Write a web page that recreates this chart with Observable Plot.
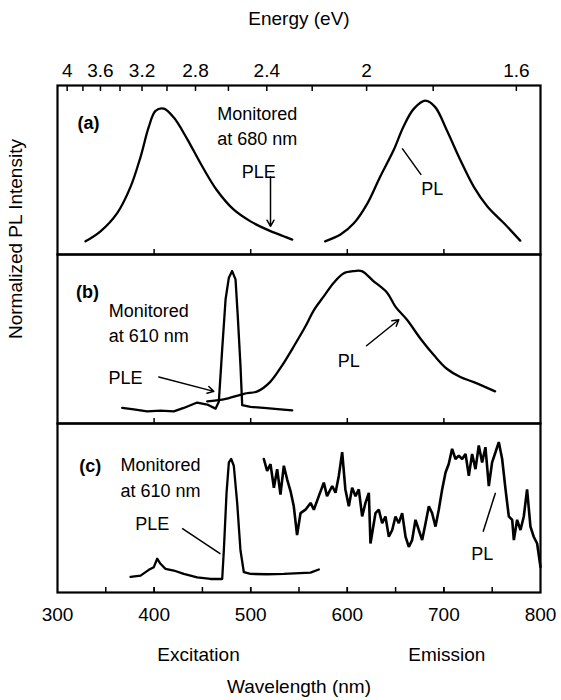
<!DOCTYPE html>
<html><head><meta charset="utf-8">
<script src="https://cdn.jsdelivr.net/npm/d3@7"></script>
<script src="https://cdn.jsdelivr.net/npm/@observablehq/plot@0.6"></script>
<style>body{margin:0;background:#fff;} svg{display:block}</style>
</head><body><div id="chart"></div>
<script>
// ---- Panel (a): PLE monitored at 680 nm, PL ----
const aPleNm = [329, 344.5, 361.8, 375.6, 386, 394.5, 401.5, 410, 420.4, 434, 448, 465, 482.5, 499.8, 517, 534, 543];
const aPleI  = [0.078, 0.137, 0.245, 0.40, 0.578, 0.755, 0.85, 0.863, 0.81, 0.686, 0.54, 0.38, 0.265, 0.196, 0.147, 0.108, 0.088];
const aPlNm  = [577, 593, 607, 621, 634, 648, 658, 669, 681, 691, 703, 717, 731, 745, 762, 779];
const aPlI   = [0.078, 0.118, 0.186, 0.304, 0.46, 0.618, 0.755, 0.863, 0.91, 0.872, 0.735, 0.559, 0.40, 0.284, 0.186, 0.082];

// ---- Panel (b): PLE monitored at 610 nm, PL ----
const bPleNm = [367, 379, 392.8, 406.6, 420.4, 430.7, 444.6, 455, 463.6, 467, 470.5, 474, 477.4, 480.8, 484.3, 486.6, 489.4, 491.2, 499.8, 513.6, 530.8, 543];
const bPleI  = [0.092, 0.084, 0.072, 0.076, 0.072, 0.092, 0.124, 0.112, 0.088, 0.128, 0.44, 0.735, 0.863, 0.902, 0.853, 0.637, 0.343, 0.108, 0.098, 0.092, 0.084, 0.078];
const bPlNm  = [455, 472, 493, 507, 520, 531, 545, 557, 565, 576, 586, 596, 607, 615, 627, 641, 650, 662, 676, 690, 703, 717, 731, 753];
const bPlI   = [0.131, 0.143, 0.176, 0.19, 0.245, 0.33, 0.46, 0.578, 0.667, 0.755, 0.833, 0.888, 0.902, 0.902, 0.843, 0.775, 0.69, 0.612, 0.50, 0.402, 0.324, 0.275, 0.245, 0.19];

// ---- Panel (c): PLE monitored at 610 nm, PL ----
const cPleNm = [375.6, 386, 394.5, 399.7, 403.2, 406.6, 411.8, 420.4, 430.7, 444.6, 458.4, 470.5, 472.2, 475, 477.4, 479.8, 482.5, 486, 489.4, 492.9, 499.8, 517, 534.3, 561.9, 570.5];
const cPleI  = [0.092, 0.10, 0.134, 0.15, 0.20, 0.17, 0.14, 0.13, 0.11, 0.09, 0.08, 0.08, 0.25, 0.59, 0.77, 0.79, 0.75, 0.53, 0.25, 0.12, 0.11, 0.108, 0.11, 0.118, 0.136];
const cPlNm  = [513.6, 517, 520.5, 524, 527.4, 530.8, 534.3, 537.7, 541.2, 544.6, 548, 551.6, 556.7, 562, 565.4, 570.5, 575.7, 579, 584.4, 587.8, 591.2, 594.7, 598, 601.6, 605, 608.5, 611.9, 615.4, 618.8, 622.3, 624, 629.2, 632.6, 636.1, 639.5, 643, 646.5, 649.9, 653.3, 656.8, 660.3, 663.7, 667.1, 670.6, 674, 677.5, 681, 684.4, 687.8, 691.3, 694.7, 698.2, 701.7, 705, 708.5, 712, 715.4, 718.9, 722.4, 725.8, 729.2, 732.7, 736.1, 739.6, 743, 746.5, 749.9, 753.4, 756.8, 760.3, 763.8, 767.2, 770.7, 772.4, 775.8, 779.3, 782.7, 786.1, 789.6, 793, 796.5, 800];
const cPlI   = [0.79, 0.72, 0.76, 0.62, 0.73, 0.58, 0.75, 0.67, 0.60, 0.51, 0.34, 0.47, 0.49, 0.53, 0.49, 0.57, 0.65, 0.57, 0.63, 0.59, 0.69, 0.83, 0.61, 0.51, 0.62, 0.57, 0.61, 0.45, 0.53, 0.59, 0.29, 0.47, 0.49, 0.41, 0.45, 0.33, 0.37, 0.45, 0.41, 0.47, 0.33, 0.27, 0.31, 0.43, 0.37, 0.31, 0.41, 0.51, 0.47, 0.39, 0.49, 0.61, 0.71, 0.76, 0.85, 0.79, 0.81, 0.79, 0.82, 0.69, 0.82, 0.73, 0.87, 0.77, 0.86, 0.63, 0.77, 0.83, 0.89, 0.79, 0.61, 0.45, 0.43, 0.31, 0.43, 0.37, 0.45, 0.61, 0.39, 0.33, 0.29, 0.15];

// ---- Axes ----
const wavelengthTicks = [300, 400, 500, 600, 700, 800];
const innerTicks = [400, 500, 600, 700];
const minorTicks = [350, 400, 450, 500, 550, 600, 650, 700, 750];
const energyTickValues = [4, 3.8, 3.6, 3.4, 3.2, 3.0, 2.8, 2.6, 2.4, 2.2, 2.0, 1.8, 1.6];
const energyLabels = [4, 3.6, 3.2, 2.8, 2.4, 2, 1.6];

// ---- Annotations ----
const panelIds   = ["a", "b", "c"];
const panelTags  = ["(a)", "(b)", "(c)"];
const tagNm      = [332, 331, 334];
const tagI       = [0.775, 0.775, 0.75];
const noteText   = ["Monitored\nat 680 nm", "PLE", "PL", "Monitored\nat 610 nm", "PLE", "PL", "Monitored\nat 610 nm", "PLE", "PL"];
const notePanel  = ["a", "a", "a", "b", "b", "b", "c", "c", "c"];
const noteNm     = [506.7, 508.4, 688, 394.5, 370.4, 601.6, 406.6, 398, 739.6];
const noteI      = [0.77, 0.50, 0.40, 0.603, 0.284, 0.382, 0.69, 0.42, 0.24];
const arrowPanel = ["a", "b", "b"];
const arrowX1 = [520.5, 404.9, 619.9], arrowY1 = [0.46, 0.275, 0.46];
const arrowX2 = [520.5, 461.8, 653.3], arrowY2 = [0.167, 0.19, 0.614];
const linkPanel = ["a", "c", "c"];
const linkX1 = [676.5, 429, 740.6], linkY1 = [0.471, 0.38, 0.36];
const linkX2 = [656.8, 468.7, 753.4], linkY2 = [0.628, 0.228, 0.59];
const footText = ["Excitation", "Emission"];
const footNm = [446, 703];

// ---- Build tables ----
const series = (panel, kind, nm, I) => nm.map((x, i) => ({panel, kind, x, y: I[i]}));
const smooth = [...series("a", "PLE", aPleNm, aPleI), ...series("a", "PL", aPlNm, aPlI), ...series("b", "PL", bPlNm, bPlI)];
const sharp  = [...series("b", "PLE", bPleNm, bPleI), ...series("c", "PLE", cPleNm, cPleI)];
const noisy  = series("c", "PL", cPlNm, cPlI);
const tags   = panelIds.map((p, i) => ({panel: p, x: tagNm[i], y: tagI[i], t: panelTags[i]}));
const notes  = noteText.map((t, i) => ({panel: notePanel[i], x: noteNm[i], y: noteI[i], t}));
const arrows = arrowPanel.map((p, i) => ({panel: p, x1: arrowX1[i], y1: arrowY1[i], x2: arrowX2[i], y2: arrowY2[i]}));
const links  = linkPanel.map((p, i) => ({panel: p, x1: linkX1[i], y1: linkY1[i], x2: linkX2[i], y2: linkY2[i]}));
const feet   = footText.map((t, i) => ({panel: "c", x: footNm[i], t}));

const chart = Plot.plot({
  width: 561, height: 700,
  marginLeft: 57, marginRight: 21, marginTop: 85, marginBottom: 108,
  style: {fontFamily: "'Liberation Sans', Arial, sans-serif", fontSize: "19px", color: "black", background: "white", overflow: "visible"},
  x: {domain: [300, 800]},
  y: {domain: [0, 1], axis: null},
  fy: {domain: panelIds, padding: 0, axis: null},
  marks: [
    Plot.frame({stroke: "black", strokeWidth: 2.2}),
    // inward ticks on every panel
    Plot.axisX({ticks: innerTicks, tickSize: -5, fill: "none", strokeWidth: 1.5, facetAnchor: null}),
    Plot.axisX({ticks: minorTicks, tickSize: -5, fill: "none", strokeWidth: 1.5}),
    // bottom labels
    Plot.axisX({ticks: wavelengthTicks, tickSize: 0, tickPadding: 15, tickFormat: d3.format("d"), fontSize: 19,
      label: "Wavelength (nm)", labelAnchor: "center", labelArrow: "none", labelOffset: 100}),
    // top energy axis
    Plot.axisX({anchor: "top", ticks: energyTickValues.map(e => 1240 / e), tickSize: -5, fill: "none", strokeWidth: 1.5}),
    Plot.axisX({anchor: "top", ticks: energyLabels.map(e => 1240 / e), tickSize: 0, tickPadding: 9, fontSize: 19,
      tickFormat: d => String(+(1240 / d).toFixed(1)),
      label: "Energy (eV)", labelAnchor: "center", labelArrow: "none", labelOffset: 74}),
    Plot.line(smooth, {x: "x", y: "y", fy: "panel", z: d => d.panel + d.kind, stroke: "black", strokeWidth: 2.3, curve: "catmull-rom"}),
    Plot.line(sharp, {x: "x", y: "y", fy: "panel", z: d => d.panel + d.kind, stroke: "black", strokeWidth: 2.3, curve: "linear"}),
    Plot.line(noisy, {x: "x", y: "y", fy: "panel", stroke: "black", strokeWidth: 2.6, curve: "linear", strokeLinejoin: "miter"}),
    Plot.arrow(arrows, {x1: "x1", y1: "y1", x2: "x2", y2: "y2", fy: "panel", stroke: "black", strokeWidth: 1.5, headLength: 7}),
    Plot.link(links, {x1: "x1", y1: "y1", x2: "x2", y2: "y2", fy: "panel", stroke: "black", strokeWidth: 1.5}),
    Plot.text(tags, {x: "x", y: "y", fy: "panel", text: "t", fontWeight: "bold", fontSize: 18}),
    Plot.text(notes, {x: "x", y: "y", fy: "panel", text: "t", fontSize: 18, lineHeight: 1.4}),
    Plot.text(feet, {x: "x", fy: "panel", text: "t", frameAnchor: "bottom", dy: 68, fontSize: 19}),
    Plot.text([{panel: "b", t: "Normalized PL Intensity"}], {fy: "panel", text: "t", frameAnchor: "left", dx: -42, rotate: -90, fontSize: 19})
  ]
});
document.getElementById("chart").appendChild(chart);
</script></body></html>
